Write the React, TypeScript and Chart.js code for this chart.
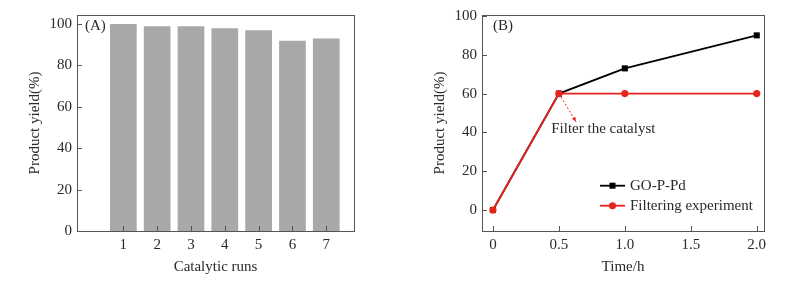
import React, { useEffect, useRef } from "react";
import { Chart, registerables } from "chart.js";
Chart.register(...registerables);

// ---- Panel A data ----
const runs = [1, 2, 3, 4, 5, 6, 7];
const runYields = [100, 99, 99, 98, 97, 92, 93];
const yTicksA = [0, 20, 40, 60, 80, 100];

// ---- Panel B data ----
const times = [0, 0.5, 1, 2];
const goPPd = [0, 60, 73, 90];
const filtering = [0, 60, 60, 60];
const xTicksB = [0, 0.5, 1, 1.5, 2];
const xTickLabelsB = ["0", "0.5", "1.0", "1.5", "2.0"];
const yTicksB = [0, 20, 40, 60, 80, 100];
const seriesNames = ["GO-P-Pd", "Filtering experiment"];
const seriesColors = ["#000000", "#e8231c"];
const annotationText = "Filter the catalyst";
const annotationFrom = { x: 0.5, y: 60 };
const annotationTo = { x: 0.63, y: 45.5 };
const annotationTextPos = { x: 0.837, y: 41.8 };

const FAMILY = '"Liberation Serif", "DejaVu Serif", serif';
const TEXT = "#2a2a2a";
const FRAME = "#555";

function framePlugin(label: string, labelDx: number, xVals: number[], yVals: number[]) {
  return {
    id: "frame_" + label,
    afterDraw(chart: any) {
      const { ctx, chartArea: a, scales } = chart;
      ctx.save();
      ctx.strokeStyle = FRAME;
      ctx.lineWidth = 1;
      ctx.strokeRect(Math.round(a.left) + 0.5, Math.round(a.top) + 0.5, Math.round(a.right - a.left), Math.round(a.bottom - a.top));
      ctx.beginPath();
      xVals.forEach((v) => {
        const px = Math.round(scales.x.getPixelForValue(v)) + 0.5;
        ctx.moveTo(px, a.bottom);
        ctx.lineTo(px, a.bottom - 5);
      });
      yVals.forEach((v) => {
        const py = Math.round(scales.y.getPixelForValue(v)) + 0.5;
        ctx.moveTo(a.left, py);
        ctx.lineTo(a.left + 5, py);
      });
      ctx.stroke();
      ctx.fillStyle = TEXT;
      ctx.font = `15px ${FAMILY}`;
      ctx.textBaseline = "middle";
      ctx.textAlign = "left";
      ctx.fillText(label, a.left + labelDx, a.top + 11);
      ctx.restore();
    },
  };
}

const legendPlugin = {
  id: "customLegend",
  afterDraw(chart: any) {
    const { ctx, chartArea: a } = chart;
    ctx.save();
    chart.data.datasets.forEach((ds: any, i: number) => {
      const y = a.top + 170.7 + i * 20;
      const x0 = a.left + 118;
      const x1 = a.left + 143;
      ctx.strokeStyle = ds.borderColor;
      ctx.lineWidth = 1.8;
      ctx.beginPath();
      ctx.moveTo(x0, y);
      ctx.lineTo(x1, y);
      ctx.stroke();
      ctx.fillStyle = ds.borderColor;
      const cx = (x0 + x1) / 2;
      if (ds.pointStyle === "rect") {
        ctx.fillRect(cx - 3, y - 3, 6, 6);
      } else {
        ctx.beginPath();
        ctx.arc(cx, y, 3.5, 0, Math.PI * 2);
        ctx.fill();
      }
      ctx.fillStyle = TEXT;
      ctx.font = `15px ${FAMILY}`;
      ctx.textBaseline = "middle";
      ctx.textAlign = "left";
      ctx.fillText(ds.label, x1 + 5, y);
    });
    ctx.restore();
  },
};

const annotationPlugin = {
  id: "arrowNote",
  afterDraw(chart: any) {
    const { ctx, scales } = chart;
    const sx = scales.x.getPixelForValue(annotationFrom.x);
    const sy = scales.y.getPixelForValue(annotationFrom.y);
    const ex = scales.x.getPixelForValue(annotationTo.x);
    const ey = scales.y.getPixelForValue(annotationTo.y);
    const ang = Math.atan2(ey - sy, ex - sx);
    const bx = sx + Math.cos(ang) * 4;
    const by = sy + Math.sin(ang) * 4;
    ctx.save();
    ctx.strokeStyle = seriesColors[1];
    ctx.fillStyle = seriesColors[1];
    ctx.lineWidth = 1;
    ctx.setLineDash([2, 2]);
    ctx.beginPath();
    ctx.moveTo(bx, by);
    ctx.lineTo(ex, ey);
    ctx.stroke();
    ctx.setLineDash([]);
    const h = 5;
    ctx.beginPath();
    ctx.moveTo(ex, ey);
    ctx.lineTo(ex - h * Math.cos(ang - 0.4), ey - h * Math.sin(ang - 0.4));
    ctx.lineTo(ex - h * Math.cos(ang + 0.4), ey - h * Math.sin(ang + 0.4));
    ctx.closePath();
    ctx.fill();
    ctx.fillStyle = TEXT;
    ctx.font = `15px ${FAMILY}`;
    ctx.textAlign = "center";
    ctx.textBaseline = "middle";
    ctx.fillText(
      annotationText,
      scales.x.getPixelForValue(annotationTextPos.x),
      scales.y.getPixelForValue(annotationTextPos.y)
    );
    ctx.restore();
  },
};

const tickFont = { family: FAMILY, size: 15, lineHeight: 1.2 };

export default function App() {
  const refA = useRef<HTMLCanvasElement>(null);
  const refB = useRef<HTMLCanvasElement>(null);

  useEffect(() => {
    const chartA = new Chart(refA.current as HTMLCanvasElement, {
      type: "bar",
      data: {
        datasets: [
          {
            data: runs.map((r, i) => ({ x: r, y: runYields[i] })),
            backgroundColor: "#a8a9a6",
            borderWidth: 0,
            barPercentage: 1,
            categoryPercentage: 0.79,
          } as any,
        ],
      },
      options: {
        responsive: false,
        animation: false,
        layout: { padding: { top: 15, right: 46, left: 0, bottom: 0 } },
        plugins: { legend: { display: false }, tooltip: { enabled: false } },
        scales: {
          x: {
            type: "linear",
            min: -0.37,
            max: 7.82,
            offset: false,
            grid: { display: false, drawTicks: false },
            border: { display: false },
            afterBuildTicks: (s: any) => {
              s.ticks = runs.map((v) => ({ value: v }));
            },
            afterFit: (s: any) => {
              s.height = 50;
            },
            ticks: { padding: 5, color: TEXT, font: tickFont, autoSkip: false, maxRotation: 0, callback: (v: any) => String(v) },
            title: { display: true, text: "Catalytic runs", color: TEXT, font: tickFont, padding: { top: 0, bottom: 5 } },
          } as any,
          y: {
            min: 0,
            max: 104.4,
            grid: { display: false, drawTicks: false },
            border: { display: false },
            afterBuildTicks: (s: any) => {
              s.ticks = yTicksA.map((v) => ({ value: v }));
            },
            afterFit: (s: any) => {
              s.width = 77;
            },
            ticks: { padding: 5, color: TEXT, font: tickFont, callback: (v: any) => String(v) },
            title: { display: true, text: "Product yield(%)", color: TEXT, font: tickFont, padding: { top: 26, bottom: 0 } },
          } as any,
        },
      },
      plugins: [framePlugin("(A)", 8, runs, yTicksA)],
    });

    const chartB = new Chart(refB.current as HTMLCanvasElement, {
      type: "line",
      data: {
        datasets: [
          {
            label: seriesNames[0],
            data: times.map((t, i) => ({ x: t, y: goPPd[i] })),
            borderColor: seriesColors[0],
            backgroundColor: seriesColors[0],
            borderWidth: 1.8,
            pointStyle: "rect",
            pointRadius: 4.3,
            pointBorderWidth: 0,
            order: 1,
          },
          {
            label: seriesNames[1],
            data: times.map((t, i) => ({ x: t, y: filtering[i] })),
            borderColor: seriesColors[1],
            backgroundColor: seriesColors[1],
            borderWidth: 1.8,
            pointStyle: "circle",
            pointRadius: 3.6,
            pointBorderWidth: 0,
            order: 0,
          },
        ],
      },
      options: {
        responsive: false,
        animation: false,
        layout: { padding: { top: 15, right: 29, left: 0, bottom: 0 } },
        plugins: { legend: { display: false }, tooltip: { enabled: false } },
        scales: {
          x: {
            type: "linear",
            min: -0.083,
            max: 2.055,
            grid: { display: false, drawTicks: false },
            border: { display: false },
            afterBuildTicks: (s: any) => {
              s.ticks = xTicksB.map((v) => ({ value: v }));
            },
            afterFit: (s: any) => {
              s.height = 50;
            },
            ticks: {
              padding: 5,
              color: TEXT,
              font: tickFont,
              autoSkip: false,
              maxRotation: 0,
              callback: (v: any) => {
                const i = xTicksB.indexOf(Number(v));
                return i >= 0 ? xTickLabelsB[i] : "";
              },
            },
            title: { display: true, text: "Time/h", color: TEXT, font: tickFont, padding: { top: 0, bottom: 5 } },
          } as any,
          y: {
            min: -10.8,
            max: 100.5,
            grid: { display: false, drawTicks: false },
            border: { display: false },
            afterBuildTicks: (s: any) => {
              s.ticks = yTicksB.map((v) => ({ value: v }));
            },
            afterFit: (s: any) => {
              s.width = 82;
            },
            ticks: { padding: 5, color: TEXT, font: tickFont, callback: (v: any) => String(v) },
            title: { display: true, text: "Product yield(%)", color: TEXT, font: tickFont, padding: { top: 31, bottom: 0 } },
          } as any,
        },
      },
      plugins: [framePlugin("(B)", 11, xTicksB, yTicksB), legendPlugin, annotationPlugin],
    });

    return () => {
      chartA.destroy();
      chartB.destroy();
    };
  }, []);

  return (
    <div style={{ position: "fixed", left: 0, top: 0, width: 793, height: 281, background: "#fff" }}>
      <canvas ref={refA} width={400} height={281} style={{ position: "absolute", left: 0, top: 0, width: 400, height: 281 }} />
      <canvas ref={refB} width={393} height={281} style={{ position: "absolute", left: 400, top: 0, width: 393, height: 281 }} />
    </div>
  );
}
